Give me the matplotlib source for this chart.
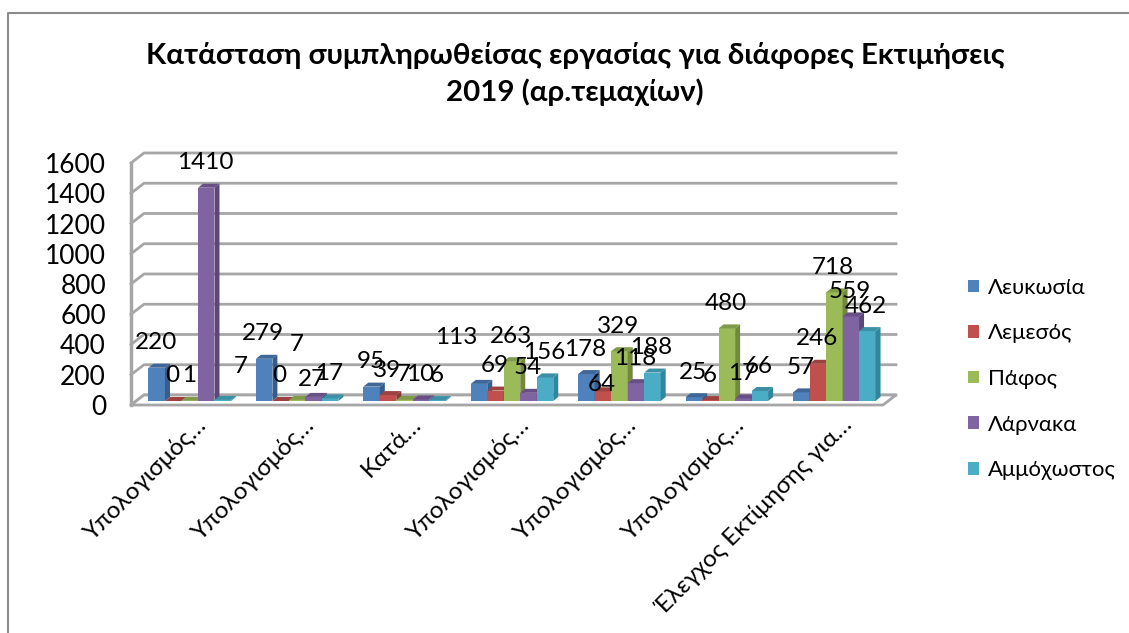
import matplotlib
matplotlib.use('Agg')
import matplotlib.pyplot as plt
from matplotlib.lines import Line2D
from matplotlib.patches import Patch, Polygon
from matplotlib.transforms import ScaledTranslation

plt.rcParams['font.family'] = ['Lato', 'Open Sans', 'DejaVu Sans']

categories = ['Υπολογισμός…', 'Υπολογισμός…', 'Κατά…', 'Υπολογισμός…',
              'Υπολογισμός…', 'Υπολογισμός…', 'Έλεγχος Εκτίμησης για…']
series_names = ['Λευκωσία', 'Λεμεσός', 'Πάφος', 'Λάρνακα', 'Αμμόχωστος']
lefkosia = [220, 279, 95, 113, 178, 25, 57]
lemesos = [0, 0, 39, 69, 64, 6, 246]
pafos = [1, 7, 7, 263, 329, 480, 718]
larnaka = [1410, 27, 10, 54, 118, 17, 559]
ammochostos = [7, 17, 6, 156, 188, 66, 462]
yticks = [0, 200, 400, 600, 800, 1000, 1200, 1400, 1600]
colors = ['#4F81BD', '#C0504D', '#9BBB59', '#8064A2', '#4BACC6']
side_colors = ['#385D8A', '#8C3A38', '#71893F', '#5C4776', '#31859C']
top_colors = ['#3F6797', '#9E4240', '#7F9A48', '#684F86', '#3B90A6']

title = 'Κατάσταση συμπληρωθείσας εργασίας για διάφορες Εκτιμήσεις\n2019 (αρ.τεμαχίων)'

# labels that were dragged away from their default spot, (group, series): pixels
label_offsets = {(0, 4): (18, 33), (1, 2): (0, 55), (1, 3): (-2, 17), (3, 0): (-23, 46), (4, 1): (-1, 7)}

W, H = 1129, 633
fig = plt.figure(figsize=(W / 100, H / 100), dpi=100)
ax = fig.add_axes([131 / W, (H - 405) / H, 752 / W, 242 / H])
ax.set_xlim(0, 7)
ax.set_ylim(0, 1600)
for s in ax.spines.values():
    s.set_visible(False)
ax.patch.set_visible(False)

# depth of the fake 3d box, in data units
wall_dx = 13 / 107.4
wall_dy = 10 / 0.151
bar_dx = 5 / 107.4
bar_dy = 4 / 0.151
grid_col = '#a6a6a6'

for v in yticks:
    ax.plot([0, wall_dx, 7 + wall_dx], [v, v + wall_dy, v + wall_dy], color=grid_col, lw=2, clip_on=False, zorder=1)
ax.plot([0, 0], [0, 1600], color=grid_col, lw=2.5, clip_on=False, zorder=1)
floor = Polygon([(0, 0), (7, 0), (7 + wall_dx, wall_dy), (wall_dx, wall_dy)], closed=True,
                facecolor='white', edgecolor=grid_col, lw=2, clip_on=False, zorder=1.5)
ax.add_patch(floor)

w = 0.1536
gap = (1 - 5 * w) / 2
all_series = [lefkosia, lemesos, pafos, larnaka, ammochostos]
z = 2
for g in range(len(categories)):
    for s, vals in enumerate(all_series):
        x0 = g + gap + s * w + bar_dx
        v = vals[g]
        y0 = bar_dy
        ax.bar(x0, v, width=w, bottom=y0, align='edge', color=colors[s], zorder=z, clip_on=False)
        ax.add_patch(Polygon([(x0 + w, y0), (x0 + w + bar_dx, y0 + bar_dy), (x0 + w + bar_dx, y0 + v + bar_dy), (x0 + w, y0 + v)],
                             closed=True, facecolor=side_colors[s], edgecolor='none', zorder=z, clip_on=False))
        ax.add_patch(Polygon([(x0, y0 + v), (x0 + w, y0 + v), (x0 + w + bar_dx, y0 + v + bar_dy), (x0 + bar_dx, y0 + v + bar_dy)],
                             closed=True, facecolor=top_colors[s], edgecolor='none', zorder=z, clip_on=False))
        z += 0.01

# data labels on top of everything
for g in range(len(categories)):
    for s, vals in enumerate(all_series):
        x0 = g + gap + s * w + bar_dx
        off = label_offsets.get((g, s), (-1, 25))
        ax.annotate(str(vals[g]), (x0 + w / 2, bar_dy + vals[g]), xytext=off, textcoords='offset pixels',
                    ha='center', va='center', fontsize=17.5, color='black', zorder=10, annotation_clip=False)

ax.set_yticks(yticks)
ax.tick_params(axis='y', length=0, pad=18, labelsize=19)
ax.set_xticks([i + 0.5 for i in range(7)])
ax.set_xticklabels(categories, rotation=45, ha='right', rotation_mode='anchor', fontsize=17.5)
ax.tick_params(axis='x', length=0, pad=6)
shift = ScaledTranslation(11 / 100, 0, fig.dpi_scale_trans)
for lab in ax.get_xticklabels():
    lab.set_transform(lab.get_transform() + shift)

handles = [Patch(facecolor=c, label=n) for c, n in zip(colors, series_names)]
fig.legend(handles=handles, loc='center left', bbox_to_anchor=(948 / W, (H - 379) / H), frameon=False,
           fontsize=15.9, handlelength=0.5, handleheight=0.5, handletextpad=0.42, labelspacing=1.16)

fig.text(575 / W, (H - 74) / H, title, ha='center', va='center', fontsize=21.2, fontweight='bold', linespacing=1.45)

# outer chart frame
fig.add_artist(Line2D([8 / W, 8 / W, 1], [0, (H - 13) / H, (H - 13) / H], transform=fig.transFigure, color='#8c8c8c', lw=1.5))

fig.savefig('out.png', dpi=100)
